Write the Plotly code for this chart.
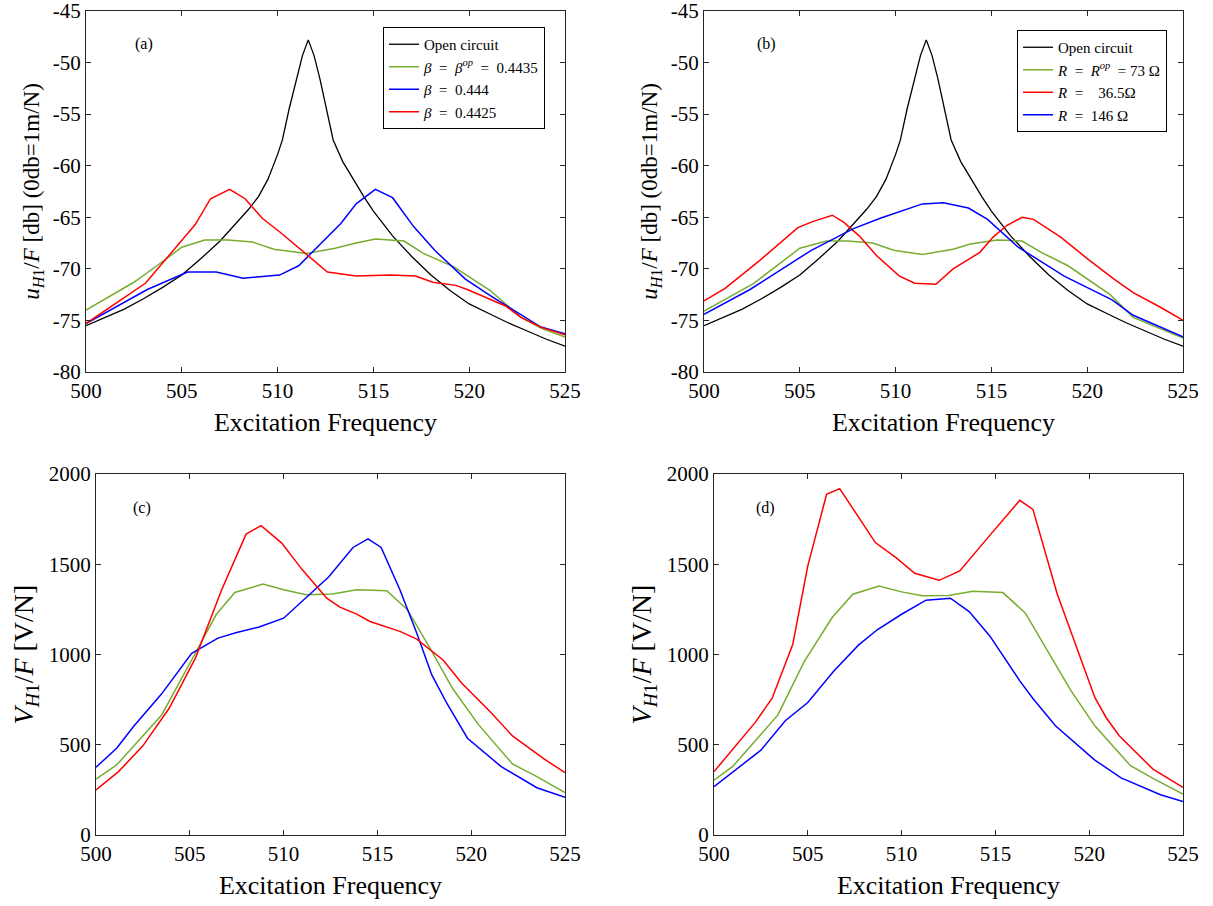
import plotly.graph_objects as go

FONT = "Liberation Serif"

# ---------------- data ----------------
X_TICKS = [500, 505, 510, 515, 520, 525]
X_TICK_LABELS = ["500", "505", "510", "515", "520", "525"]
U_TICKS = [-80, -75, -70, -65, -60, -55, -50, -45]
U_TICK_LABELS = ["-80", "-75", "-70", "-65", "-60", "-55", "-50", "-45"]
V_TICKS = [0, 500, 1000, 1500, 2000]
V_TICK_LABELS = ["0", "500", "1000", "1500", "2000"]

# open circuit (same in (a) and (b))
FREQ_OPEN = [500, 501, 502, 503, 504, 505, 506, 507, 508, 508.5, 509, 509.5, 510, 510.25, 510.6,
             511.0, 511.3, 511.6, 511.9, 512.2, 512.6, 512.9, 513.4, 514, 514.5, 515,
             516, 517, 518, 519, 520, 521, 522, 523, 524, 525]
U_OPEN = [-75.5, -74.7, -73.9, -72.9, -71.8, -70.6, -69.0, -67.3, -65.2, -64.2, -63.0, -61.3, -58.9, -57.5, -54.5,
          -51.5, -49.3, -47.8, -49.3, -51.5, -54.8, -57.5, -59.6, -61.5, -63.0, -64.4,
          -66.8, -68.8, -70.6, -72.1, -73.4, -74.3, -75.2, -76.0, -76.8, -77.5]

# (a) beta variation
A_GREEN_F = [500.0, 502.5, 503.7, 505.0, 506.2, 507.4, 508.7, 509.8, 511.5, 513.0, 514.1, 515.1, 516.6, 517.6, 519.2, 521.1, 522.7, 523.8, 525.0]
A_GREEN_U = [-74.0, -71.3, -69.7, -67.9, -67.2, -67.2, -67.4, -68.1, -68.5, -68.0, -67.5, -67.1, -67.3, -68.5, -69.8, -72.1, -74.7, -75.8, -76.6]
A_BLUE_F = [500.0, 501.9, 503.2, 505.3, 506.8, 508.2, 510.1, 511.1, 513.3, 514.1, 515.1, 516.0, 517.1, 518.2, 519.8, 521.1, 522.7, 523.7, 525.0]
A_BLUE_U = [-75.3, -73.3, -72.0, -70.3, -70.3, -70.9, -70.6, -69.7, -65.6, -63.7, -62.3, -63.1, -65.9, -68.2, -71.0, -72.6, -74.4, -75.6, -76.3]
A_RED_F = [500.0, 503.1, 505.7, 506.5, 507.5, 508.3, 509.2, 510.1, 512.6, 514.1, 515.9, 517.2, 518.1, 519.3, 519.9, 521.9, 522.7, 523.8, 525.0]
A_RED_U = [-75.3, -71.4, -65.7, -63.2, -62.3, -63.2, -65.1, -66.4, -70.3, -70.7, -70.6, -70.7, -71.3, -71.6, -72.0, -73.6, -74.7, -75.7, -76.4]

# (b) resistance variation
B_GREEN_F = [500.0, 502.6, 505.0, 506.4, 507.5, 508.8, 509.9, 511.4, 513.0, 513.9, 515.3, 516.6, 517.6, 519.0, 521.2, 522.4, 525.0]
B_GREEN_U = [-74.1, -71.4, -68.0, -67.3, -67.3, -67.5, -68.2, -68.6, -68.1, -67.6, -67.2, -67.3, -68.4, -69.7, -72.5, -74.7, -76.7]
B_RED_F = [500.0, 501.1, 502.9, 504.9, 505.7, 506.7, 507.3, 508.1, 509.0, 510.2, 511.0, 512.1, 513.0, 514.4, 515.1, 515.8, 516.6, 517.2, 518.6, 520.0, 521.4, 522.4, 523.8, 525.0]
B_RED_U = [-73.1, -71.9, -69.2, -66.0, -65.4, -64.8, -65.5, -66.8, -68.7, -70.7, -71.4, -71.5, -70.0, -68.4, -66.9, -65.8, -65.0, -65.2, -66.9, -69.0, -71.0, -72.3, -73.7, -75.0]
B_BLUE_F = [500.0, 502.4, 505.6, 507.8, 509.2, 511.4, 512.5, 513.8, 514.8, 516.4, 518.8, 521.3, 522.4, 525.0]
B_BLUE_U = [-74.4, -72.0, -68.2, -66.1, -65.1, -63.7, -63.6, -64.1, -65.2, -67.9, -70.7, -73.0, -74.5, -76.6]

# (c) voltage, beta variation
C_GREEN_F = [500.0, 501.1, 502.3, 503.5, 505.2, 506.4, 507.4, 508.9, 510.0, 511.2, 512.6, 513.9, 515.5, 516.6, 517.9, 519.0, 520.4, 522.2, 523.5, 525.0]
C_GREEN_V = [309, 388, 527, 665, 989, 1220, 1344, 1390, 1359, 1331, 1335, 1359, 1353, 1248, 1017, 813, 610, 394, 323, 235]
C_BLUE_F = [500.0, 501.1, 502.0, 503.5, 505.1, 506.5, 507.5, 508.7, 510.0, 512.4, 513.7, 514.5, 515.2, 516.2, 517.1, 517.9, 518.7, 519.8, 521.6, 523.5, 525.0]
C_BLUE_V = [375, 481, 601, 782, 1007, 1091, 1122, 1152, 1201, 1429, 1593, 1641, 1593, 1359, 1118, 887, 730, 536, 379, 262, 209]
C_RED_F = [500.0, 501.2, 502.5, 503.9, 505.3, 506.7, 508.0, 508.8, 509.9, 511.0, 512.3, 513.0, 513.9, 514.6, 516.2, 517.1, 518.5, 519.5, 521.0, 522.2, 523.9, 525.0]
C_RED_V = [250, 351, 494, 702, 980, 1359, 1667, 1714, 1617, 1469, 1312, 1262, 1224, 1183, 1128, 1085, 970, 841, 684, 549, 420, 346]

# (d) voltage, resistance variation
D_GREEN_F = [500.0, 501.0, 502.2, 503.4, 504.8, 506.3, 507.4, 508.8, 510.0, 511.1, 512.5, 513.8, 515.4, 516.6, 519.0, 520.3, 522.2, 523.5, 525.0]
D_GREEN_V = [304, 380, 522, 664, 959, 1205, 1334, 1380, 1347, 1325, 1327, 1351, 1343, 1229, 804, 605, 384, 308, 227]
D_RED_F = [500.0, 502.2, 503.1, 504.2, 505.0, 506.0, 506.7, 508.6, 509.7, 510.7, 512.0, 513.1, 514.7, 516.3, 517.0, 518.3, 520.3, 520.9, 521.6, 523.4, 525.0]
D_RED_V = [351, 624, 758, 1057, 1491, 1887, 1919, 1620, 1537, 1450, 1411, 1463, 1660, 1854, 1804, 1334, 762, 651, 550, 365, 264]
D_BLUE_F = [500.0, 502.5, 503.8, 505.0, 506.4, 507.7, 508.7, 510.0, 511.3, 512.6, 513.6, 514.7, 516.3, 517.0, 518.2, 520.3, 521.7, 522.7, 523.8, 525.0]
D_BLUE_V = [268, 470, 633, 734, 910, 1052, 1137, 1223, 1301, 1312, 1238, 1103, 854, 756, 605, 415, 316, 273, 223, 186]

BLACK = "#000000"
GREEN = "#77AC30"
BLUE = "#0000FF"
RED = "#FF0000"
LW = 1.5

fig = go.Figure()

def add(x, y, color, name, xa, ya, legend="legend", show=False, width=LW):
    fig.add_trace(go.Scatter(
        x=x, y=y, mode="lines", name=name,
        line=dict(color=color, width=width),
        xaxis=xa, yaxis=ya,
        showlegend=show, legend=legend,
    ))

# (a)
add(FREQ_OPEN, U_OPEN, BLACK, "Open circuit", "x", "y", "legend", True, 1.3)
add(A_GREEN_F, A_GREEN_U, GREEN, "<i>β</i>  =  <i>β</i><sup><i>op</i></sup>  =  0.4435", "x", "y", "legend", True)
add(A_BLUE_F, A_BLUE_U, BLUE, "<i>β</i>  =  0.444", "x", "y", "legend", True)
add(A_RED_F, A_RED_U, RED, "<i>β</i>  =  0.4425", "x", "y", "legend", True)
# (b)
add(FREQ_OPEN, U_OPEN, BLACK, "Open circuit", "x2", "y2", "legend2", True, 1.3)
add(B_GREEN_F, B_GREEN_U, GREEN, "<i>R</i>  =  <i>R</i><sup><i>op</i></sup>  = 73 Ω", "x2", "y2", "legend2", True)
add(B_RED_F, B_RED_U, RED, "<i>R</i>  =    36.5Ω", "x2", "y2", "legend2", True)
add(B_BLUE_F, B_BLUE_U, BLUE, "<i>R</i>  =  146 Ω", "x2", "y2", "legend2", True)
# (c)
add(C_GREEN_F, C_GREEN_V, GREEN, "β op", "x3", "y3")
add(C_BLUE_F, C_BLUE_V, BLUE, "β 0.444", "x3", "y3")
add(C_RED_F, C_RED_V, RED, "β 0.4425", "x3", "y3")
# (d)
add(D_RED_F, D_RED_V, RED, "R 36.5", "x4", "y4")
add(D_GREEN_F, D_GREEN_V, GREEN, "R op", "x4", "y4")
add(D_BLUE_F, D_BLUE_V, BLUE, "R 146", "x4", "y4")

W, H = 1213, 906
def px_dom(a, b, total):
    return [a / total, b / total]

AX = dict(showline=True, linecolor="#262626", linewidth=1, mirror="ticks",
          ticks="inside", ticklen=5, tickcolor="#262626", showgrid=False,
          zeroline=False, ticklabeloverflow="allow",
          tickfont=dict(family=FONT, size=21, color="#000000"))

def xax(dom, anchor):
    d = dict(AX)
    d.update(domain=dom, anchor=anchor, range=[500, 525], tickvals=X_TICKS, ticktext=X_TICK_LABELS,
             title=dict(text="Excitation Frequency", font=dict(family=FONT, size=26, color="#000000"), standoff=10))
    return d

def yax(dom, anchor, rng, tv, tt, title, size):
    d = dict(AX)
    d.update(domain=dom, anchor=anchor, range=rng, tickvals=tv, ticktext=tt,
             title=dict(text=title, font=dict(family=FONT, size=size, color="#000000"), standoff=6))
    return d

UTITLE = "<i>u</i><sub><i>H</i>1</sub>/<i>F</i> [db] (0db=1m/N)"
VTITLE = "<i>V</i><sub><i>H</i>1</sub>/<i>F</i> [V/N]"

top_y = [1 - 372 / H, 1 - 11 / H]
bot_y = [1 - 835 / H, 1 - 474 / H]

LEG = dict(xanchor="right", yanchor="top", bgcolor="white", bordercolor="#000000", borderwidth=1,
           font=dict(family=FONT, size=15, color="#000000"), tracegroupgap=0, itemwidth=30)

fig.update_layout(
    width=W, height=H,
    margin=dict(l=0, r=0, t=0, b=0, autoexpand=False),
    paper_bgcolor="white", plot_bgcolor="white",
    font=dict(family=FONT, color="#000000"),
    xaxis=xax(px_dom(86, 565, W), "y"),
    yaxis=yax(top_y, "x", [-80, -45], U_TICKS, U_TICK_LABELS, UTITLE, 23),
    xaxis2=xax(px_dom(704, 1183, W), "y2"),
    yaxis2=yax(top_y, "x2", [-80, -45], U_TICKS, U_TICK_LABELS, UTITLE, 23),
    xaxis3=xax(px_dom(96, 565, W), "y3"),
    yaxis3=yax(bot_y, "x3", [0, 2000], V_TICKS, V_TICK_LABELS, VTITLE, 28),
    xaxis4=xax(px_dom(714, 1183, W), "y4"),
    yaxis4=yax(bot_y, "x4", [0, 2000], V_TICKS, V_TICK_LABELS, VTITLE, 28),
    legend=dict(LEG, x=545 / W, y=1 - 27 / H),
    legend2=dict(LEG, x=1167 / W, y=1 - 30 / H),
    showlegend=True,
)

labels = [("(a)", "x", "y", 0.098, 0.939), ("(b)", "x2", "y2", 0.106, 0.939),
          ("(c)", "x3", "y3", 0.075, 0.936), ("(d)", "x4", "y4", 0.085, 0.936)]
for txt, xr, yr, xx, yy in labels:
    fig.add_annotation(text=txt, xref=xr + " domain", yref=yr + " domain", x=xx, y=yy,
                       showarrow=False, font=dict(family=FONT, size=16, color="#000000"))

fig.write_html("out.html", config={"displayModeBar": False},
               post_script="document.body.style.margin='0';document.body.style.padding='0';")
